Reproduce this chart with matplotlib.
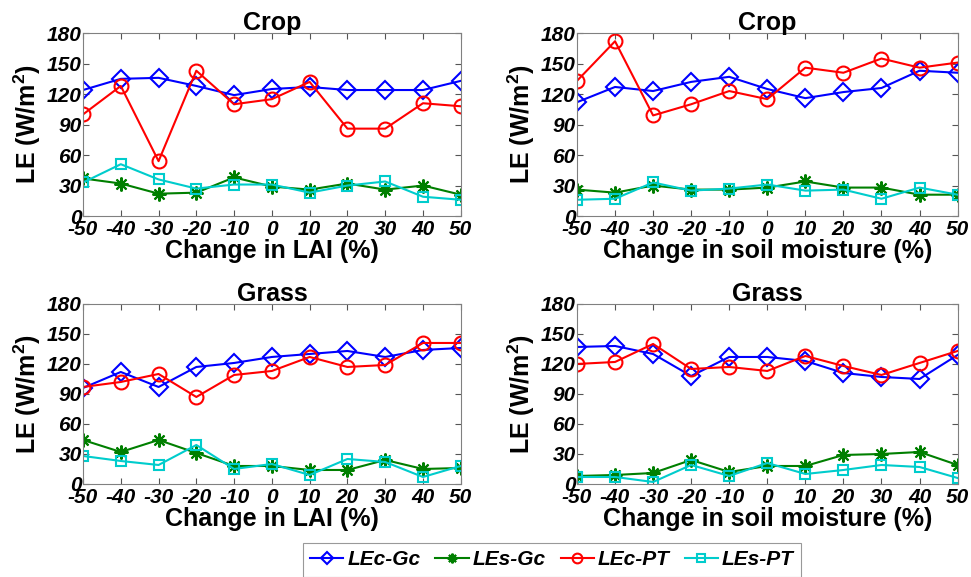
import numpy as np
import matplotlib
matplotlib.use('Agg')
import matplotlib.pyplot as plt

plt.rcParams['font.family'] = ['Liberation Sans', 'DejaVu Sans']
plt.rcParams['mathtext.fontset'] = 'custom'
plt.rcParams['mathtext.rm'] = 'Liberation Sans:bold'
plt.rcParams['mathtext.bf'] = 'Liberation Sans:bold'
plt.rcParams['axes.unicode_minus'] = False

change = [-50, -40, -30, -20, -10, 0, 10, 20, 30, 40, 50]

# crop, LAI
crop_lai_lec_gc = [124, 135, 136, 128, 119, 125, 127, 124, 124, 124, 133]
crop_lai_les_gc = [37, 32, 22, 23, 38, 29, 26, 32, 26, 30, 21]
crop_lai_lec_pt = [100, 128, 54, 143, 110, 115, 132, 86, 86, 111, 108]
crop_lai_les_pt = [33, 51, 36, 27, 31, 31, 23, 30, 34, 19, 16]

# crop, soil moisture
crop_sm_lec_gc = [112, 127, 123, 132, 137, 125, 116, 122, 126, 143, 141]
crop_sm_les_gc = [26, 23, 30, 26, 26, 28, 34, 28, 28, 21, 21]
crop_sm_lec_pt = [133, 172, 99, 110, 123, 115, 146, 141, 155, 146, 151]
crop_sm_les_pt = [16, 17, 33, 25, 27, 31, 25, 26, 17, 28, 21]

# grass, LAI
grass_lai_lec_gc = [96, 112, 97, 117, 121, 127, 130, 133, 127, 134, 136]
grass_lai_les_gc = [44, 32, 44, 31, 18, 18, 14, 14, 24, 15, 16]
grass_lai_lec_pt = [97, 102, 110, 87, 109, 113, 127, 117, 119, 141, 141]
grass_lai_les_pt = [28, 23, 19, 39, 15, 20, 9, 25, 22, 7, 18]

# grass, soil moisture
grass_sm_lec_gc = [137, 138, 130, 108, 127, 127, 123, 111, 107, 105, 129]
grass_sm_les_gc = [8, 9, 11, 24, 12, 18, 18, 29, 30, 32, 19]
grass_sm_lec_pt = [120, 122, 140, 115, 117, 113, 128, 118, 109, 121, 133]
grass_sm_les_pt = [7, 7, 2, 19, 8, 21, 10, 14, 19, 17, 6]

labels = ['LEc-Gc', 'LEs-Gc', 'LEc-PT', 'LEs-PT']
yticks = [0, 30, 60, 90, 120, 150, 180]

panels = [
    ('Crop', 'Change in LAI (%)', [crop_lai_lec_gc, crop_lai_les_gc, crop_lai_lec_pt, crop_lai_les_pt]),
    ('Crop', 'Change in soil moisture (%)', [crop_sm_lec_gc, crop_sm_les_gc, crop_sm_lec_pt, crop_sm_les_pt]),
    ('Grass', 'Change in LAI (%)', [grass_lai_lec_gc, grass_lai_les_gc, grass_lai_lec_pt, grass_lai_les_pt]),
    ('Grass', 'Change in soil moisture (%)', [grass_sm_lec_gc, grass_sm_les_gc, grass_sm_lec_pt, grass_sm_les_pt]),
]
positions = [
    [0.0855, 0.6256, 0.389, 0.317],
    [0.5942, 0.6256, 0.392, 0.317],
    [0.0855, 0.1612, 0.389, 0.312],
    [0.5942, 0.1612, 0.392, 0.312],
]

# color, marker, size, filled
styles = [
    ('#0000ff', 'D', 9, False),
    ('#007f00', (8, 2, 0), 10, True),
    ('#ff0000', 'o', 10, False),
    ('#00cccc', 's', 7.5, False),
]

fig = plt.figure(figsize=(9.71, 5.77), dpi=100)

handles = None
for (title, xlabel, series), pos in zip(panels, positions):
    ax = fig.add_axes(pos)
    hs = []
    for vals, lab, (c, m, ms, filled) in zip(series, labels, styles):
        h, = ax.plot(change, vals, color=c, marker=m, markersize=ms,
                     markerfacecolor=c if filled else 'none', markeredgecolor=c,
                     markeredgewidth=1.5, lw=1.5, label=lab)
        hs.append(h)
    handles = hs
    ax.set_xlim(-50, 50)
    ax.set_ylim(0, 180)
    ax.set_xticks(change)
    ax.set_yticks(yticks)
    ax.tick_params(direction='in', length=4, color='#555555', labelsize=15, top=True, right=True)
    ax.tick_params(axis='x', pad=3)
    ax.tick_params(axis='y', pad=1)
    for lbl in ax.get_xticklabels() + ax.get_yticklabels():
        lbl.set_fontweight('bold')
        lbl.set_fontstyle('italic')
    for sp in ax.spines.values():
        sp.set_color('#808080')
        sp.set_linewidth(0.8)
    ax.set_title(title, fontsize=18, fontweight='bold', pad=2)
    ax.set_xlabel(xlabel, fontsize=18, fontweight='bold', labelpad=0)
    ax.set_ylabel(r'LE (W/m$^{\mathbf{2}}$)', fontsize=18, fontweight='bold', labelpad=3)

leg = fig.legend(handles, labels, loc='upper center', bbox_to_anchor=(0.5685, 0.059), ncol=4,
                 frameon=True, fancybox=False, edgecolor='#808080', handlelength=1.6,
                 columnspacing=0.7, handletextpad=0.2, borderpad=0.35, markerscale=0.7,
                 borderaxespad=0,
                 prop=dict(family='Liberation Sans', weight='bold', style='italic', size=15))
leg.get_frame().set_linewidth(0.8)

fig.savefig('out.png', dpi=100)
